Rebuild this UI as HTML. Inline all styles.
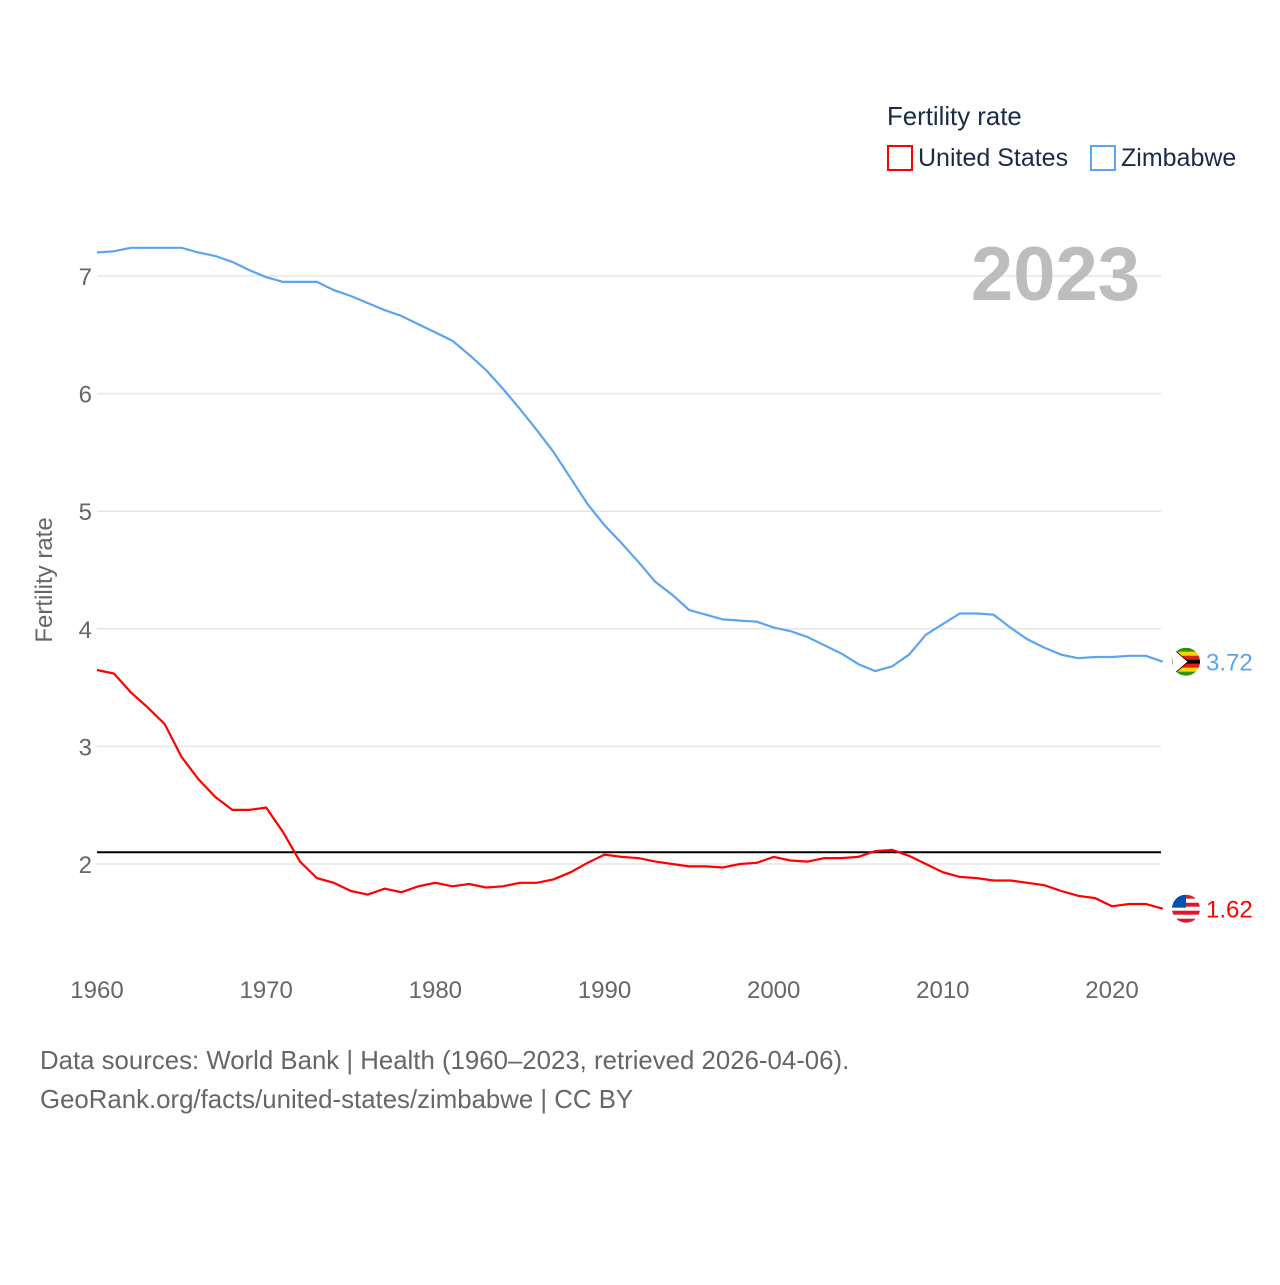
<!DOCTYPE html>
<html><head><meta charset="utf-8"><style>
body{margin:0;background:#fff;font-family:"Liberation Sans",sans-serif;}
</style></head><body>
<svg width="1280" height="1280" viewBox="0 0 1280 1280" xmlns="http://www.w3.org/2000/svg">
<defs>
<clipPath id="c1"><circle cx="0" cy="0" r="14"/></clipPath>
</defs>
<g id="grid"></g>
<g id="yticks"></g>
<g id="xticks"></g>
<text x="52" y="580" transform="rotate(-90 52 580)" text-anchor="middle" font-size="24" fill="#666">Fertility rate</text>
<text x="1140" y="300" text-anchor="end" font-size="76" font-weight="bold" fill="#bdbdbd">2023</text>
<text x="887" y="125" font-size="25.8" fill="#1a2b48">Fertility rate</text>
<g><rect x="888" y="146" width="24" height="24" fill="none" stroke="#ff0000" stroke-width="2"/><text x="918" y="166" font-size="25" fill="#1a2b48">United States</text></g>
<g><rect x="1091" y="146" width="24" height="24" fill="none" stroke="#5ba4ef" stroke-width="2"/><text x="1121" y="166" font-size="25" fill="#1a2b48">Zimbabwe</text></g>
<g id="series"></g>
<text x="40" y="1069" font-size="25.8" fill="#666">Data sources: World Bank | Health (1960–2023, retrieved 2026-04-06).</text>
<text x="40" y="1108" font-size="25.8" fill="#666">GeoRank.org/facts/united-states/zimbabwe | CC BY</text>
</svg>
<script>
const years=[];for(let y=1960;y<=2023;y++)years.push(y);
const zimbabwe=[7.2,7.21,7.24,7.24,7.24,7.24,7.2,7.17,7.12,7.05,6.99,6.95,6.95,6.95,6.88,6.83,6.77,6.71,6.66,6.59,6.52,6.45,6.33,6.2,6.04,5.87,5.69,5.5,5.28,5.06,4.88,4.73,4.57,4.4,4.29,4.16,4.12,4.08,4.07,4.06,4.01,3.98,3.93,3.86,3.79,3.7,3.64,3.68,3.78,3.95,4.04,4.13,4.13,4.12,4.01,3.91,3.84,3.78,3.75,3.76,3.76,3.77,3.77,3.72];
const unitedStates=[3.65,3.62,3.46,3.33,3.19,2.91,2.72,2.57,2.46,2.46,2.48,2.27,2.02,1.88,1.84,1.77,1.74,1.79,1.76,1.81,1.84,1.81,1.83,1.8,1.81,1.84,1.84,1.87,1.93,2.01,2.08,2.06,2.05,2.02,2.0,1.98,1.98,1.97,2.0,2.01,2.06,2.03,2.02,2.05,2.05,2.06,2.11,2.12,2.07,2.0,1.93,1.89,1.88,1.86,1.86,1.84,1.82,1.77,1.73,1.71,1.64,1.66,1.66,1.62];
const yTicks=[2,3,4,5,6,7];
const xTicks=[1960,1970,1980,1990,2000,2010,2020];
const replacementLevel=2.1;
const NS="http://www.w3.org/2000/svg";
const X=y=>97+(y-1960)*(1112-97)/60;
const Y=v=>864-(v-2)*(864-276)/5;
function mk(t,a,p){const e=document.createElementNS(NS,t);for(const k in a)e.setAttribute(k,a[k]);(p||document.getElementById('series')).appendChild(e);return e;}
const grid=document.getElementById('grid'),yt=document.getElementById('yticks'),xt=document.getElementById('xticks');
yTicks.forEach(v=>{
 const l=mk('line',{x1:97,x2:1161,y1:Y(v),y2:Y(v),stroke:'#e6e6e6','stroke-width':1.5},grid);
 
 
 const t=mk('text',{x:92,y:Y(v)+9,'text-anchor':'end','font-size':24,fill:'#666'},yt);t.textContent=v;
 
 
});
xTicks.forEach(v=>{
 const t=mk('text',{x:X(v),y:998,'text-anchor':'middle','font-size':24,fill:'#666'},xt);t.textContent=v;
 
 
});
const rl=mk('line',{x1:97,x2:1161,y1:Y(replacementLevel),y2:Y(replacementLevel),stroke:'#000','stroke-width':2});


function flag(g,name){
 if(name==='zimbabwe'){
  const cols=['#319208','#ffd200','#de2010','#000','#de2010','#ffd200','#319208'];
  cols.forEach((c,i)=>mk('rect',{x:-14,y:-14+i*4,width:28,height:4.2,fill:c},g));
  mk('path',{d:'M-14,-14 L2,0 L-14,14Z',fill:'#fff',stroke:'#000','stroke-width':0.8},g);
 } else {
  for(let i=0;i<7;i++)mk('rect',{x:-14,y:-14+i*4,width:28,height:4.2,fill:i%2?'#fff':'#e0162b'},g);
  mk('rect',{x:-14,y:-14,width:14,height:13,fill:'#0052b4'},g);
 }
}
function series(vals,color,name){
 const d=vals.map((v,i)=>(i?'L':'M')+X(years[i]).toFixed(1)+','+Y(v).toFixed(1)).join('');
 const p=mk('path',{d:d,fill:'none',stroke:color,'stroke-width':2.2});
 
 
 const last=vals[vals.length-1],ly=Y(last);
 const g=mk('g',{transform:'translate(1186,'+ly.toFixed(1)+')','clip-path':'url(#c1)'});
 
 
 flag(g,name);
 const t=mk('text',{x:1206,y:ly+9,'font-size':24,fill:color});t.textContent=last.toFixed(2);
 
 
}
series(zimbabwe,'#5ba4ef','zimbabwe');
series(unitedStates,'#ff0000','united-states');
</script>
</body></html>
